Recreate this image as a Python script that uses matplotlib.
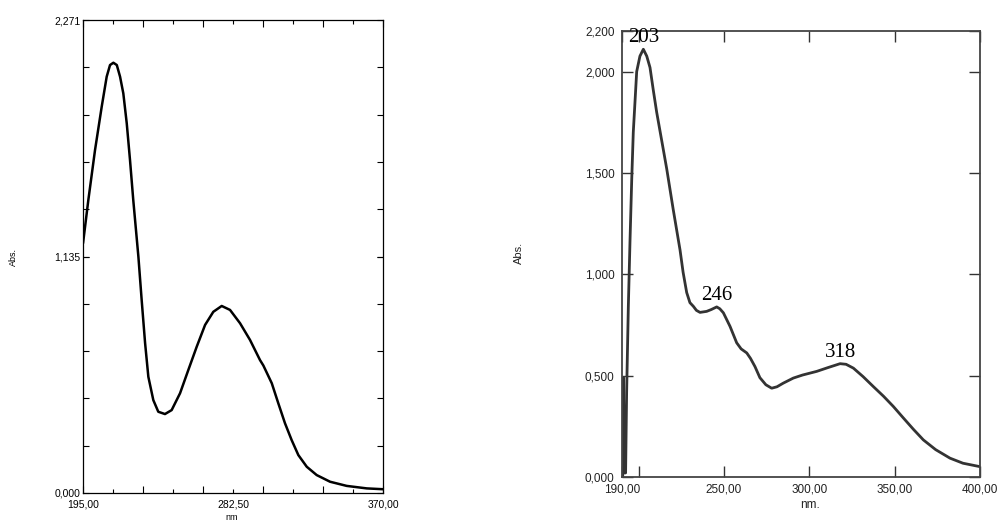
import matplotlib
matplotlib.use("Agg")
import matplotlib.pyplot as plt
import numpy as np

plt.rcParams['font.family'] = ['Liberation Sans', 'DejaVu Sans']

# left spectrum (nm, Abs.)
left_nm = [195.0, 198.1, 202.0, 205.9, 208.8, 210.75, 212.7, 214.7, 216.6, 218.5, 220.5,
           222.4, 224.3, 227.3, 229.2, 231.2, 233.1, 236.0, 238.9, 242.8, 246.7, 251.6,
           256.4, 261.3, 266.2, 271.0, 275.9, 280.75, 286.6, 292.4, 298.25, 300.2, 305.1,
           308.9, 312.8, 316.7, 320.6, 325.5, 331.3, 339.1, 348.8, 360.5, 370.0]
left_abs = [1.199, 1.407, 1.647, 1.855, 1.999, 2.055, 2.066, 2.055, 1.999, 1.919, 1.775,
            1.599, 1.407, 1.134, 0.927, 0.720, 0.558, 0.446, 0.390, 0.379, 0.398, 0.479,
            0.590, 0.702, 0.807, 0.870, 0.898, 0.879, 0.815, 0.735, 0.638, 0.612, 0.527,
            0.431, 0.335, 0.254, 0.182, 0.126, 0.086, 0.054, 0.034, 0.022, 0.018]
left_major = [195.0, 230.0, 265.0, 300.0, 335.0, 370.0]
left_major_labels = ['195,00', '', '', '', '', '370,00']
left_minor = [212.5, 247.5, 282.5, 317.5, 352.5]
left_minor_labels = ['', '', '282,50', '', '']
left_ymax = 2.271
left_yticks = [0.0, 1.135, 2.271]
left_ylabels = ['0,000', '1,135', '2,271']

# right spectrum (nm, Abs.)
right_nm = [190.6, 191.0, 191.6, 192.3, 192.9, 193.9, 194.9, 195.9, 196.8, 197.8, 198.8,
            200.7, 202.7, 204.7, 206.6, 208.5, 210.5, 212.5, 214.3, 216.4, 218.3, 220.2,
            222.2, 224.2, 226.0, 228.1, 230.0, 232.0, 233.8, 235.9, 239.8, 242.5, 245.7,
            247.5, 249.6, 253.5, 257.4, 260.0, 263.3, 265.5, 268.1, 271.0, 274.5, 277.9,
            281.0, 284.7, 290.6, 296.0, 304.3, 311.0, 318.0, 321.5, 325.8, 331.5, 337.5,
            343.5, 349.2, 355.0, 361.0, 366.8, 374.0, 382.4, 390.0, 400.0]
right_abs = [0.000, 0.490, 0.020, 0.020, 0.415, 0.840, 1.170, 1.470, 1.700, 1.850, 2.000,
             2.076, 2.110, 2.076, 2.020, 1.910, 1.800, 1.705, 1.620, 1.520, 1.420, 1.320,
             1.220, 1.120, 1.010, 0.910, 0.860, 0.842, 0.822, 0.812, 0.817, 0.826, 0.839,
             0.830, 0.810, 0.743, 0.662, 0.632, 0.612, 0.585, 0.545, 0.490, 0.455, 0.438,
             0.445, 0.463, 0.488, 0.503, 0.521, 0.540, 0.559, 0.556, 0.537, 0.495, 0.446,
             0.398, 0.348, 0.292, 0.235, 0.183, 0.135, 0.093, 0.068, 0.051]
right_xticks = [190, 200, 250, 300, 350, 400]
right_xlabels = ['190,00', '', '250,00', '300,00', '350,00', '400,00']
right_yticks = [0.0, 0.5, 1.0, 1.5, 2.0, 2.2]
right_ylabels = ['0,000', '0,500', '1,000', '1,500', '2,000', '2,200']
peak_nm = [203, 246, 318]
peak_abs = [2.115, 0.84, 0.559]

fig = plt.figure(figsize=(10.04, 5.22), dpi=100)

# ---- left panel
ax1 = fig.add_axes([0.0827, 0.0556, 0.2988, 0.906])
ax1.plot(left_nm, left_abs, color='black', lw=1.8, solid_joinstyle='round', solid_capstyle='round')
ax1.set_xlim(195, 370)
ax1.set_ylim(0, left_ymax)
ax1.set_xticks(left_major)
ax1.set_xticklabels(left_major_labels, fontsize=7.5)
ax1.set_xticks(left_minor, minor=True)
ax1.set_xticklabels(left_minor_labels, minor=True, fontsize=7.5)
ax1.set_yticks(np.linspace(0, left_ymax, 11), minor=True)
ax1.set_yticks(left_yticks)
ax1.set_yticklabels(left_ylabels, fontsize=7.5)
ax1.tick_params(which='both', direction='in', top=True, right=True, width=0.8)
ax1.tick_params(axis='x', which='major', length=5, pad=5)
ax1.tick_params(axis='x', which='minor', length=3, pad=5)
ax1.tick_params(axis='y', which='both', length=4, pad=2)
for s in ax1.spines.values():
    s.set_linewidth(0.9)
fig.text(232 / 1004, 1 - 517 / 522, 'nm', fontsize=6.5, ha='center', va='center')
fig.text(13 / 1004, 1 - 257 / 522, 'Abs.', fontsize=6.5, rotation=90, ha='center', va='center')

# ---- right panel
ax2 = fig.add_axes([0.6192, 0.0862, 0.3569, 0.8544])
ax2.plot(right_nm, right_abs, color='#333333', lw=2.0, solid_joinstyle='round')
ax2.set_xlim(190, 400)
ax2.set_ylim(0, 2.2)
ax2.set_xticks(right_xticks)
ax2.set_xticklabels(right_xlabels, fontsize=8.5)
ax2.set_yticks(right_yticks)
ax2.set_yticklabels(right_ylabels, fontsize=8.5)
ax2.tick_params(direction='in', top=True, right=True, length=8, width=1.0, pad=5, colors='#333333',
                labelcolor='#222222')
for s in ax2.spines.values():
    s.set_linewidth(1.3)
    s.set_color('#444444')
fig.text(810 / 1004, 1 - 505 / 522, 'nm.', fontsize=8.5, ha='center', va='center', color='#222222')
fig.text(519 / 1004, 1 - 253 / 522, 'Abs.', fontsize=8, rotation=90, ha='center', va='center',
         color='#222222')
for x, y in zip(peak_nm, peak_abs):
    ax2.annotate(str(x), (x, y), xytext=(0, 1), textcoords='offset points',
                 ha='center', va='bottom', fontsize=15, family='Liberation Serif')

fig.savefig('out.png', dpi=100)
